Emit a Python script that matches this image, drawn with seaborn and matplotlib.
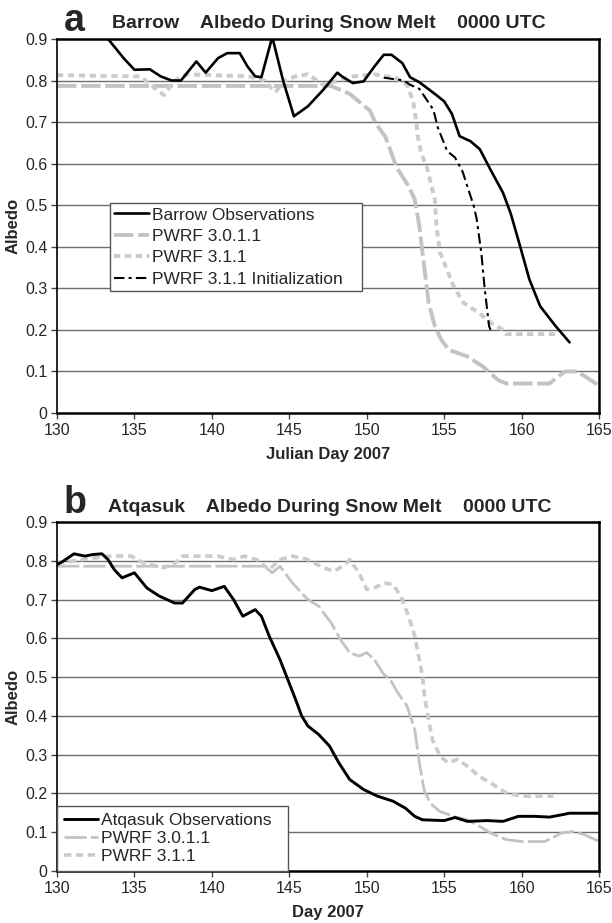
import matplotlib
matplotlib.use("Agg")
import matplotlib.pyplot as plt
import seaborn as sns
import pandas as pd

sns.set_style("white")
plt.rcParams['font.family'] = ['Liberation Sans', 'DejaVu Sans']

# ---- panel a: Barrow ----
a_obs_day = [133.0, 133.3, 134.3, 135.0, 136.0, 136.7, 137.4, 138.0, 139.0, 139.6,
             140.4, 141.0, 141.8, 142.3, 142.8, 143.2, 143.9, 144.6, 145.3, 146.2,
             147.2, 148.1, 148.4, 149.1, 149.8, 150.5, 151.1, 151.6, 152.3, 152.8,
             153.4, 154.5, 155.0, 155.5, 156.0, 156.7, 157.3, 158.0, 158.8, 159.3,
             159.9, 160.5, 161.2, 162.2, 163.1]
a_obs_val = [0.93, 0.90, 0.854, 0.826, 0.827, 0.81, 0.80, 0.80, 0.846, 0.819,
             0.854, 0.866, 0.866, 0.834, 0.81, 0.808, 0.905, 0.80, 0.714, 0.738,
             0.778, 0.819, 0.81, 0.794, 0.798, 0.834, 0.862, 0.862, 0.842, 0.808,
             0.796, 0.765, 0.75, 0.72, 0.666, 0.654, 0.635, 0.585, 0.53, 0.48,
             0.402, 0.322, 0.257, 0.209, 0.17]

a_301_day = [130.0, 147.7, 148.9, 149.8, 150.2, 150.6, 151.2, 151.6, 151.9, 152.2,
             152.7, 153.1, 153.4, 153.6, 154.0, 154.4, 154.8, 155.3, 156.5, 157.5,
             158.5, 159.0, 161.8, 162.8, 163.6, 164.8, 165.0]
a_301_val = [0.787, 0.787, 0.768, 0.74, 0.728, 0.696, 0.665, 0.625, 0.593, 0.575,
             0.546, 0.514, 0.45, 0.386, 0.265, 0.209, 0.177, 0.152, 0.136, 0.112,
             0.079, 0.071, 0.071, 0.10, 0.10, 0.071, 0.068]

a_311_day = [130.0, 135.4, 136.2, 136.9, 137.6, 138.4, 142.4, 143.4, 144.1, 144.7,
             145.4, 146.2, 147.2, 148.2, 149.1, 150.5, 151.9, 152.6, 153.0, 153.2,
             153.3, 153.5, 153.9, 154.4, 154.5, 154.74, 155.6, 156.25, 157.26, 158.0,
             158.8, 159.0, 162.3]
a_311_val = [0.813, 0.81, 0.785, 0.765, 0.80, 0.815, 0.81, 0.80, 0.772, 0.80,
             0.81, 0.815, 0.79, 0.80, 0.81, 0.815, 0.806, 0.79, 0.75, 0.70,
             0.666, 0.627, 0.59, 0.514, 0.45, 0.386, 0.306, 0.265, 0.241, 0.217,
             0.20, 0.19, 0.19]

a_init_day = [151.1, 152.4, 152.8, 153.4, 154.3, 154.6, 155.2, 155.7, 156.2, 156.5,
              156.9, 157.1, 157.4, 157.6, 157.9, 158.0]
a_init_val = [0.807, 0.80, 0.79, 0.78, 0.73, 0.686, 0.63, 0.615, 0.58, 0.545,
              0.50, 0.467, 0.386, 0.306, 0.209, 0.20]

# ---- panel b: Atqasuk ----
b_obs_day = [130.0, 130.4, 131.1, 131.8, 132.3, 132.9, 133.3, 133.7, 134.2, 135.0,
             135.8, 136.6, 137.6, 138.1, 138.9, 139.2, 140.0, 140.8, 141.4, 142.0,
             142.8, 143.2, 143.7, 144.4, 144.9, 145.4, 145.8, 146.2, 146.9, 147.6,
             148.2, 148.9, 149.8, 150.7, 151.7, 152.5, 153.1, 153.6, 155.0, 155.7,
             156.5, 157.8, 158.8, 159.8, 160.8, 161.8, 162.6, 163.1, 164.8, 165.0]
b_obs_val = [0.79, 0.799, 0.818, 0.812, 0.816, 0.818, 0.803, 0.777, 0.756, 0.769,
             0.73, 0.709, 0.691, 0.691, 0.726, 0.732, 0.723, 0.734, 0.70, 0.657,
             0.674, 0.657, 0.606, 0.545, 0.494, 0.443, 0.40, 0.374, 0.352, 0.322,
             0.279, 0.236, 0.21, 0.193, 0.18, 0.162, 0.141, 0.132, 0.13, 0.138,
             0.128, 0.13, 0.128, 0.141, 0.141, 0.139, 0.145, 0.149, 0.149, 0.149]

b_301_day = [130.0, 143.4, 143.9, 144.4, 145.2, 146.2, 146.9, 147.7, 148.3, 148.9,
             149.5, 150.0, 150.5, 151.1, 151.5, 152.0, 152.6, 153.1, 153.4, 153.7,
             154.1, 154.7, 155.6, 156.5, 157.3, 158.0, 159.0, 160.0, 161.5, 162.6,
             163.3, 164.1, 164.8, 165.0]
b_301_val = [0.786, 0.786, 0.769, 0.786, 0.743, 0.70, 0.683, 0.64, 0.597, 0.563,
             0.554, 0.563, 0.545, 0.507, 0.495, 0.46, 0.426, 0.365, 0.279, 0.21,
             0.175, 0.154, 0.141, 0.132, 0.115, 0.098, 0.081, 0.076, 0.076, 0.098,
             0.102, 0.093, 0.08, 0.078]

b_311_day = [130.0, 133.3, 134.8, 135.6, 136.9, 137.5, 138.1, 140.4, 141.4, 142.1,
             142.9, 143.7, 144.4, 145.2, 146.2, 147.2, 147.9, 148.6, 148.9, 149.5,
             150.0, 150.5, 151.1, 151.7, 152.2, 152.7, 153.1, 153.4, 153.6, 153.73,
             153.99, 154.24, 154.74, 155.25, 155.88, 156.5, 157.26, 158.02, 159.0, 160.03,
             162.05]
b_311_val = [0.794, 0.812, 0.812, 0.794, 0.782, 0.79, 0.812, 0.812, 0.803, 0.812,
             0.803, 0.777, 0.803, 0.812, 0.803, 0.782, 0.773, 0.79, 0.803, 0.769,
             0.726, 0.73, 0.743, 0.739, 0.709, 0.657, 0.606, 0.545, 0.503, 0.452,
             0.391, 0.339, 0.296, 0.279, 0.288, 0.27, 0.244, 0.227, 0.201, 0.193,
             0.193]

x_ticks = [130, 135, 140, 145, 150, 155, 160, 165]
y_ticks = [0, 0.1, 0.2, 0.3, 0.4, 0.5, 0.6, 0.7, 0.8, 0.9]
y_ticklabels = ['0', '0.1', '0.2', '0.3', '0.4', '0.5', '0.6', '0.7', '0.8', '0.9']

GRAY1 = '#c3c3c3'
GRAY2 = '#cbcbcb'


def draw(ax, day, val, **kw):
    df = pd.DataFrame({'day': day, 'val': val})
    sns.lineplot(data=df, x='day', y='val', ax=ax, sort=False, estimator=None, **kw)


def style_axes(ax, xlabel):
    ax.set_xlim(130, 165)
    ax.set_ylim(0, 0.9)
    ax.set_xticks(x_ticks)
    ax.set_xticklabels([str(t) for t in x_ticks])
    ax.set_yticks(y_ticks)
    ax.set_yticklabels(y_ticklabels)
    ax.grid(False)
    for t in y_ticks[1:-1]:
        ax.axhline(t, color='#6e6e6e', lw=1.0, zorder=0)
    for sp in ax.spines.values():
        sp.set_visible(True)
        sp.set_color('black')
        sp.set_linewidth(1.8)
    ax.spines['left'].set_linewidth(1.2)
    ax.tick_params(axis='both', which='major', labelsize=11.5, direction='out',
                   length=4, width=1, color='#444444', pad=3, left=True, bottom=True)
    ax.set_xlabel(xlabel, fontsize=12, fontweight='bold', labelpad=7)
    ax.set_ylabel('Albedo', fontsize=12, fontweight='bold', labelpad=3)


fig = plt.figure(figsize=(6.12, 9.23), dpi=100)
ax_a = fig.add_axes([57 / 612, 1 - 413 / 923, 542 / 612, 374 / 923])
ax_b = fig.add_axes([57 / 612, 1 - 871 / 923, 542 / 612, 349 / 923])

# panel a
draw(ax_a, a_301_day, a_301_val, color=GRAY1, lw=2.8, linestyle=(0, (5, 1.2)),
     label='PWRF 3.0.1.1', zorder=2)
draw(ax_a, a_311_day, a_311_val, color=GRAY2, lw=2.8, linestyle=(0, (1.6, 1.2)),
     label='PWRF 3.1.1', zorder=2)
draw(ax_a, a_init_day, a_init_val, color='black', lw=1.5, linestyle=(0, (5, 2, 1.5, 2)),
     label='PWRF 3.1.1 Initialization', zorder=3)
draw(ax_a, a_obs_day, a_obs_val, color='black', lw=1.9, label='Barrow Observations', zorder=4)
style_axes(ax_a, 'Julian Day 2007')
la = {l.get_label(): l for l in ax_a.get_lines()}
order_a = ['Barrow Observations', 'PWRF 3.0.1.1', 'PWRF 3.1.1', 'PWRF 3.1.1 Initialization']
leg_a = ax_a.legend([la[k] for k in order_a], order_a, loc='lower left',
                    bbox_to_anchor=(0.098, 0.326, 0.465, 0.235), mode='expand',
                    fontsize=12.5, frameon=True, fancybox=False, framealpha=1,
                    edgecolor='#555555', borderpad=0.25, labelspacing=0.36,
                    handlelength=2.0, handletextpad=0.15, borderaxespad=0)
leg_a.get_frame().set_linewidth(1.0)

# panel b
draw(ax_b, b_301_day, b_301_val, color=GRAY1, lw=2.0, linestyle=(0, (8, 1.5)),
     label='PWRF 3.0.1.1', zorder=2)
draw(ax_b, b_311_day, b_311_val, color=GRAY2, lw=2.6, linestyle=(0, (2, 1.3)),
     label='PWRF 3.1.1', zorder=2)
draw(ax_b, b_obs_day, b_obs_val, color='black', lw=2.1, label='Atqasuk Observations', zorder=4)
style_axes(ax_b, 'Day 2007')
lb = {l.get_label(): l for l in ax_b.get_lines()}
order_b = ['Atqasuk Observations', 'PWRF 3.0.1.1', 'PWRF 3.1.1']
leg_b = ax_b.legend([lb[k] for k in order_b], order_b, loc='lower left',
                    bbox_to_anchor=(0.0, 0.0, 0.426, 0.189), mode='expand',
                    fontsize=12.5, frameon=True, fancybox=False, framealpha=1,
                    edgecolor='#555555', borderpad=0.39, labelspacing=0.18,
                    handlelength=2.0, handletextpad=0.15, borderaxespad=0)
leg_b.get_frame().set_linewidth(1.0)

# panel titles
fig.text(64 / 612, 1 - 31 / 923, 'a', fontsize=27, fontweight='bold', va='baseline', ha='left')
fig.text(112 / 612, 1 - 28.5 / 923, 'Barrow    Albedo During Snow Melt    0000 UTC',
         fontsize=14, fontweight='bold', va='baseline', ha='left')
fig.text(64 / 612, 1 - 513 / 923, 'b', fontsize=27, fontweight='bold', va='baseline', ha='left')
fig.text(108 / 612, 1 - 512 / 923, 'Atqasuk    Albedo During Snow Melt    0000 UTC',
         fontsize=14, fontweight='bold', va='baseline', ha='left')

fig.savefig('out.png', dpi=100)
